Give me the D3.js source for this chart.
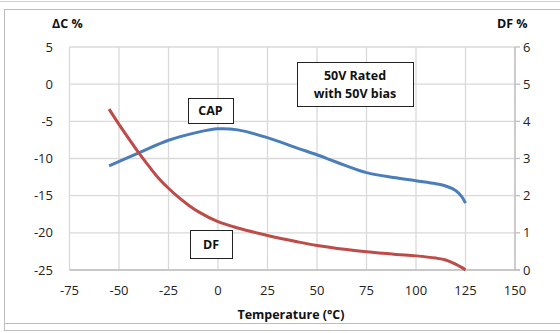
<!DOCTYPE html>
<html><head><meta charset="utf-8">
<script src="https://cdn.jsdelivr.net/npm/d3@7"></script>
<style>body{margin:0;background:#fff}svg text{font-family:"Open Sans",sans-serif}</style>
</head><body><svg id="c" width="560" height="333"></svg>
<script>
const xTicks = [-75,-50,-25,0,25,50,75,100,125,150];
const yLeftTicks = [5,0,-5,-10,-15,-20,-25];
const yRightTicks = [0,1,2,3,4,5,6];
const capTemp = [-55,-40,-25,-10,0,10,25,40,50,60,75,90,100,110,115,120,123,125];
const capVals = [-11,-9.25,-7.55,-6.45,-6.0,-6.15,-7.2,-8.6,-9.5,-10.5,-11.9,-12.6,-13.0,-13.4,-13.7,-14.3,-15.1,-16];
const dfTemp = [-55,-50,-45,-40,-35,-30,-25,-20,-15,-10,0,10,25,40,50,65,75,90,100,110,115,120,123,125];
const dfVals = [4.33,3.92,3.53,3.15,2.8,2.47,2.2,1.96,1.75,1.57,1.3,1.13,0.93,0.76,0.66,0.55,0.49,0.42,0.38,0.32,0.27,0.16,0.07,0];

const svg = d3.select("#c");
const L=69.5, R=515, T=47, B=270;
const x = d3.scaleLinear().domain([-75,150]).range([L,R]);
const yL = d3.scaleLinear().domain([-25,5]).range([B,T]);
const yR = d3.scaleLinear().domain([0,6]).range([B,T]);

// frame
svg.append("line").attr("x1",0).attr("x2",560).attr("y1",1.5).attr("y2",1.5).attr("stroke","#d0d0d0");
svg.append("rect").attr("x",4.5).attr("y",9.5).attr("width",600).attr("height",314).attr("fill","none").attr("stroke","#bdbdbd");
svg.append("rect").attr("x",4.5).attr("y",323.5).attr("width",600).attr("height",7).attr("fill","none").attr("stroke","#bdbdbd");

// grid
const g = svg.append("g");
xTicks.forEach(t=>g.append("line").attr("x1",x(t)).attr("x2",x(t)).attr("y1",T).attr("y2",B).attr("stroke","#d9d9d9").attr("stroke-width",1.3));
yLeftTicks.forEach(t=>g.append("line").attr("x1",L).attr("x2",R).attr("y1",yL(t)).attr("y2",yL(t)).attr("stroke","#d9d9d9").attr("stroke-width",1.3));
// axes lines
g.append("line").attr("x1",L).attr("x2",R+5).attr("y1",B).attr("y2",B).attr("stroke","#bfbfbf").attr("stroke-width",1.3);
g.append("line").attr("x1",R).attr("x2",R).attr("y1",T).attr("y2",B).attr("stroke","#bfbfbf").attr("stroke-width",1.3);
yRightTicks.forEach(t=>g.append("line").attr("x1",R).attr("x2",R+5).attr("y1",yR(t)).attr("y2",yR(t)).attr("stroke","#bfbfbf").attr("stroke-width",1.3));

// tick labels
const fs=13;
yLeftTicks.forEach(t=>svg.append("text").attr("x",53).attr("y",yL(t)+4.5).attr("text-anchor","end").attr("font-size",fs).attr("fill","#222").text(t));
yRightTicks.forEach(t=>svg.append("text").attr("x",523).attr("y",yR(t)+4.5).attr("text-anchor","start").attr("font-size",fs).attr("fill","#222").text(t));
xTicks.forEach(t=>svg.append("text").attr("x",x(t)).attr("y",295).attr("text-anchor","middle").attr("font-size",fs).attr("fill","#222").text(t));

// axis titles
svg.append("text").attr("x",52).attr("y",28).attr("font-size",12.5).attr("font-weight","bold").attr("fill","#111").text("ΔC %");
svg.append("text").attr("x",497).attr("y",28).attr("font-size",12.5).attr("font-weight","bold").attr("fill","#111").text("DF %");
svg.append("text").attr("x",291).attr("y",319).attr("text-anchor","middle").attr("font-size",12.5).attr("font-weight","bold").attr("fill","#111").text("Temperature (°C)");

// lines
const capLine = d3.line().x(d=>x(d[0])).y(d=>yL(d[1])).curve(d3.curveCatmullRom.alpha(0.5));
const dfLine = d3.line().x(d=>x(d[0])).y(d=>yR(d[1])).curve(d3.curveCatmullRom.alpha(0.5));
svg.append("path").attr("d",capLine(capTemp.map((t,i)=>[t,capVals[i]]))).attr("fill","none").attr("stroke","#4a7ebb").attr("stroke-width",3);
svg.append("path").attr("d",dfLine(dfTemp.map((t,i)=>[t,dfVals[i]]))).attr("fill","none").attr("stroke","#be4b48").attr("stroke-width",3);

// annotation boxes
function box(x0,y0,w,h,lines){
  svg.append("rect").attr("x",x0+0.5).attr("y",y0+0.5).attr("width",w).attr("height",h).attr("fill","#fff").attr("stroke","#222").attr("stroke-width",1);
  const n=lines.length;
  lines.forEach((s,i)=>svg.append("text").attr("x",x0+w/2).attr("y",y0+h/2+4.5+(i-(n-1)/2)*18).attr("text-anchor","middle").attr("font-size",12.5).attr("font-weight","bold").attr("fill","#111").text(s));
}
box(297,62,116,44,["50V Rated","with 50V bias"]);
box(188,98,45,25,["CAP"]);
box(190,230,42,28,["DF"]);
</script></body></html>
